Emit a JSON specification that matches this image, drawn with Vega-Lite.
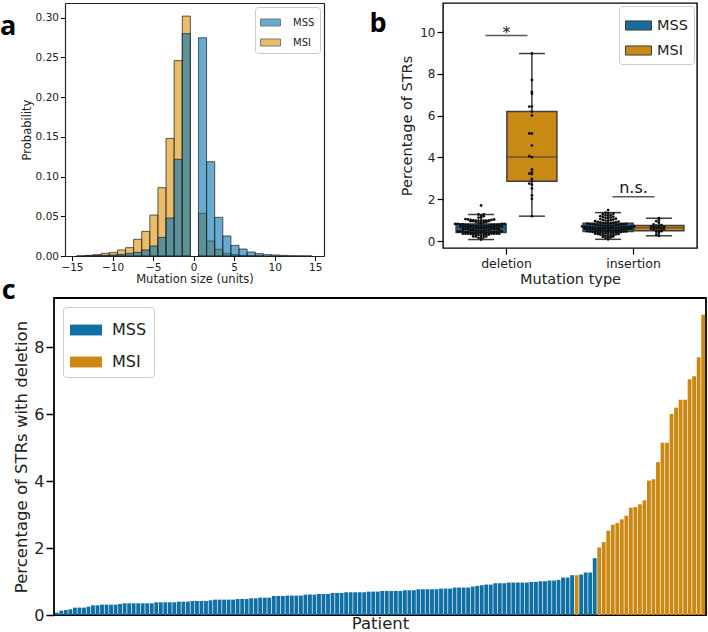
{
"$schema": "https://vega.github.io/schema/vega-lite/v6.json",
"autosize": {"type": "none"},
"padding": {"left": 54, "top": 3, "right": 654, "bottom": 629},
"background": "white",
"datasets": {
"hist": [
{"status":"MSI","start":-14.4,"end":-13.4,"prob":0.0003},
{"status":"MSI","start":-13.4,"end":-12.4,"prob":0.0008},
{"status":"MSI","start":-12.4,"end":-11.4,"prob":0.0017},
{"status":"MSI","start":-11.4,"end":-10.4,"prob":0.0034},
{"status":"MSI","start":-10.4,"end":-9.4,"prob":0.0046},
{"status":"MSI","start":-9.4,"end":-8.4,"prob":0.0076},
{"status":"MSI","start":-8.4,"end":-7.4,"prob":0.0105},
{"status":"MSI","start":-7.4,"end":-6.4,"prob":0.021},
{"status":"MSI","start":-6.4,"end":-5.4,"prob":0.031},
{"status":"MSI","start":-5.4,"end":-4.4,"prob":0.0516},
{"status":"MSI","start":-4.4,"end":-3.4,"prob":0.086},
{"status":"MSI","start":-3.4,"end":-2.4,"prob":0.148},
{"status":"MSI","start":-2.4,"end":-1.4,"prob":0.246},
{"status":"MSI","start":-1.4,"end":-0.4,"prob":0.302},
{"status":"MSI","start":0.6,"end":1.6,"prob":0.0537},
{"status":"MSI","start":1.6,"end":2.6,"prob":0.0189},
{"status":"MSI","start":2.6,"end":3.6,"prob":0.0084},
{"status":"MSI","start":3.6,"end":4.6,"prob":0.0034},
{"status":"MSI","start":4.6,"end":5.6,"prob":0.0017},
{"status":"MSI","start":5.6,"end":6.6,"prob":0.0008},
{"status":"MSI","start":6.6,"end":7.6,"prob":0.0004},
{"status":"MSI","start":7.6,"end":8.6,"prob":0.0002},
{"status":"MSS","start":-13.4,"end":-12.4,"prob":0.0003},
{"status":"MSS","start":-12.4,"end":-11.4,"prob":0.0005},
{"status":"MSS","start":-11.4,"end":-10.4,"prob":0.0008},
{"status":"MSS","start":-10.4,"end":-9.4,"prob":0.0013},
{"status":"MSS","start":-9.4,"end":-8.4,"prob":0.002},
{"status":"MSS","start":-8.4,"end":-7.4,"prob":0.0034},
{"status":"MSS","start":-7.4,"end":-6.4,"prob":0.0046},
{"status":"MSS","start":-6.4,"end":-5.4,"prob":0.0076},
{"status":"MSS","start":-5.4,"end":-4.4,"prob":0.0126},
{"status":"MSS","start":-4.4,"end":-3.4,"prob":0.0235},
{"status":"MSS","start":-3.4,"end":-2.4,"prob":0.0478},
{"status":"MSS","start":-2.4,"end":-1.4,"prob":0.1217},
{"status":"MSS","start":-1.4,"end":-0.4,"prob":0.280},
{"status":"MSS","start":0.6,"end":1.6,"prob":0.2747},
{"status":"MSS","start":1.6,"end":2.6,"prob":0.1187},
{"status":"MSS","start":2.6,"end":3.6,"prob":0.0487},
{"status":"MSS","start":3.6,"end":4.6,"prob":0.0252},
{"status":"MSS","start":4.6,"end":5.6,"prob":0.0134},
{"status":"MSS","start":5.6,"end":6.6,"prob":0.0088},
{"status":"MSS","start":6.6,"end":7.6,"prob":0.005},
{"status":"MSS","start":7.6,"end":8.6,"prob":0.003},
{"status":"MSS","start":8.6,"end":9.6,"prob":0.0017},
{"status":"MSS","start":9.6,"end":10.6,"prob":0.0013},
{"status":"MSS","start":10.6,"end":11.6,"prob":0.0008},
{"status":"MSS","start":11.6,"end":12.6,"prob":0.0003},
{"status":"MSS","start":12.6,"end":13.6,"prob":0.0002},
{"status":"MSS","start":13.6,"end":14.6,"prob":0.0001}
],
"patients": [
{"patient":0,"status":"MSS","deletion":0.07,"insertion":0.08},
{"patient":1,"status":"MSS","deletion":0.13,"insertion":0.12},
{"patient":2,"status":"MSS","deletion":0.15,"insertion":0.15},
{"patient":3,"status":"MSS","deletion":0.17,"insertion":0.18},
{"patient":4,"status":"MSS","deletion":0.22,"insertion":0.20},
{"patient":5,"status":"MSS","deletion":0.22,"insertion":0.22},
{"patient":6,"status":"MSS","deletion":0.22,"insertion":0.24},
{"patient":7,"status":"MSS","deletion":0.25,"insertion":0.25},
{"patient":8,"status":"MSS","deletion":0.29,"insertion":0.27},
{"patient":9,"status":"MSS","deletion":0.29,"insertion":0.28},
{"patient":10,"status":"MSS","deletion":0.31,"insertion":0.30},
{"patient":11,"status":"MSS","deletion":0.31,"insertion":0.31},
{"patient":12,"status":"MSS","deletion":0.31,"insertion":0.32},
{"patient":13,"status":"MSS","deletion":0.31,"insertion":0.33},
{"patient":14,"status":"MSS","deletion":0.33,"insertion":0.34},
{"patient":15,"status":"MSS","deletion":0.35,"insertion":0.35},
{"patient":16,"status":"MSS","deletion":0.35,"insertion":0.36},
{"patient":17,"status":"MSS","deletion":0.35,"insertion":0.37},
{"patient":18,"status":"MSS","deletion":0.35,"insertion":0.38},
{"patient":19,"status":"MSS","deletion":0.35,"insertion":0.39},
{"patient":20,"status":"MSS","deletion":0.35,"insertion":0.40},
{"patient":21,"status":"MSS","deletion":0.35,"insertion":0.40},
{"patient":22,"status":"MSS","deletion":0.38,"insertion":0.41},
{"patient":23,"status":"MSS","deletion":0.38,"insertion":0.41},
{"patient":24,"status":"MSS","deletion":0.38,"insertion":0.42},
{"patient":25,"status":"MSS","deletion":0.38,"insertion":0.42},
{"patient":26,"status":"MSS","deletion":0.38,"insertion":0.43},
{"patient":27,"status":"MSS","deletion":0.40,"insertion":0.44},
{"patient":28,"status":"MSS","deletion":0.40,"insertion":0.45},
{"patient":29,"status":"MSS","deletion":0.40,"insertion":0.45},
{"patient":30,"status":"MSS","deletion":0.42,"insertion":0.46},
{"patient":31,"status":"MSS","deletion":0.42,"insertion":0.47},
{"patient":32,"status":"MSS","deletion":0.42,"insertion":0.48},
{"patient":33,"status":"MSS","deletion":0.42,"insertion":0.48},
{"patient":34,"status":"MSS","deletion":0.44,"insertion":0.49},
{"patient":35,"status":"MSS","deletion":0.46,"insertion":0.50},
{"patient":36,"status":"MSS","deletion":0.46,"insertion":0.50},
{"patient":37,"status":"MSS","deletion":0.46,"insertion":0.51},
{"patient":38,"status":"MSS","deletion":0.46,"insertion":0.52},
{"patient":39,"status":"MSS","deletion":0.46,"insertion":0.52},
{"patient":40,"status":"MSS","deletion":0.48,"insertion":0.53},
{"patient":41,"status":"MSS","deletion":0.48,"insertion":0.54},
{"patient":42,"status":"MSS","deletion":0.48,"insertion":0.54},
{"patient":43,"status":"MSS","deletion":0.50,"insertion":0.55},
{"patient":44,"status":"MSS","deletion":0.50,"insertion":0.56},
{"patient":45,"status":"MSS","deletion":0.52,"insertion":0.56},
{"patient":46,"status":"MSS","deletion":0.52,"insertion":0.57},
{"patient":47,"status":"MSS","deletion":0.52,"insertion":0.58},
{"patient":48,"status":"MSS","deletion":0.57,"insertion":0.58},
{"patient":49,"status":"MSS","deletion":0.57,"insertion":0.59},
{"patient":50,"status":"MSS","deletion":0.57,"insertion":0.59},
{"patient":51,"status":"MSS","deletion":0.58,"insertion":0.60},
{"patient":52,"status":"MSS","deletion":0.58,"insertion":0.60},
{"patient":53,"status":"MSS","deletion":0.58,"insertion":0.61},
{"patient":54,"status":"MSS","deletion":0.58,"insertion":0.61},
{"patient":55,"status":"MSS","deletion":0.61,"insertion":0.62},
{"patient":56,"status":"MSS","deletion":0.61,"insertion":0.62},
{"patient":57,"status":"MSS","deletion":0.61,"insertion":0.63},
{"patient":58,"status":"MSS","deletion":0.63,"insertion":0.63},
{"patient":59,"status":"MSS","deletion":0.63,"insertion":0.64},
{"patient":60,"status":"MSS","deletion":0.63,"insertion":0.64},
{"patient":61,"status":"MSS","deletion":0.66,"insertion":0.65},
{"patient":62,"status":"MSS","deletion":0.66,"insertion":0.65},
{"patient":63,"status":"MSS","deletion":0.66,"insertion":0.66},
{"patient":64,"status":"MSS","deletion":0.68,"insertion":0.67},
{"patient":65,"status":"MSS","deletion":0.68,"insertion":0.67},
{"patient":66,"status":"MSS","deletion":0.68,"insertion":0.68},
{"patient":67,"status":"MSS","deletion":0.68,"insertion":0.68},
{"patient":68,"status":"MSS","deletion":0.68,"insertion":0.69},
{"patient":69,"status":"MSS","deletion":0.70,"insertion":0.70},
{"patient":70,"status":"MSS","deletion":0.70,"insertion":0.70},
{"patient":71,"status":"MSS","deletion":0.70,"insertion":0.71},
{"patient":72,"status":"MSS","deletion":0.72,"insertion":0.72},
{"patient":73,"status":"MSS","deletion":0.72,"insertion":0.72},
{"patient":74,"status":"MSS","deletion":0.72,"insertion":0.73},
{"patient":75,"status":"MSS","deletion":0.72,"insertion":0.74},
{"patient":76,"status":"MSS","deletion":0.72,"insertion":0.74},
{"patient":77,"status":"MSS","deletion":0.74,"insertion":0.75},
{"patient":78,"status":"MSS","deletion":0.74,"insertion":0.76},
{"patient":79,"status":"MSS","deletion":0.74,"insertion":0.76},
{"patient":80,"status":"MSS","deletion":0.77,"insertion":0.77},
{"patient":81,"status":"MSS","deletion":0.77,"insertion":0.78},
{"patient":82,"status":"MSS","deletion":0.77,"insertion":0.79},
{"patient":83,"status":"MSS","deletion":0.77,"insertion":0.80},
{"patient":84,"status":"MSS","deletion":0.77,"insertion":0.80},
{"patient":85,"status":"MSS","deletion":0.79,"insertion":0.81},
{"patient":86,"status":"MSS","deletion":0.79,"insertion":0.82},
{"patient":87,"status":"MSS","deletion":0.79,"insertion":0.83},
{"patient":88,"status":"MSS","deletion":0.82,"insertion":0.84},
{"patient":89,"status":"MSS","deletion":0.82,"insertion":0.85},
{"patient":90,"status":"MSS","deletion":0.82,"insertion":0.86},
{"patient":91,"status":"MSS","deletion":0.82,"insertion":0.87},
{"patient":92,"status":"MSS","deletion":0.85,"insertion":0.88},
{"patient":93,"status":"MSS","deletion":0.87,"insertion":0.89},
{"patient":94,"status":"MSS","deletion":0.89,"insertion":0.90},
{"patient":95,"status":"MSS","deletion":0.91,"insertion":0.92},
{"patient":96,"status":"MSS","deletion":0.91,"insertion":0.93},
{"patient":97,"status":"MSS","deletion":0.95,"insertion":0.95},
{"patient":98,"status":"MSS","deletion":0.95,"insertion":0.96},
{"patient":99,"status":"MSS","deletion":0.95,"insertion":0.98},
{"patient":100,"status":"MSS","deletion":0.97,"insertion":1.00},
{"patient":101,"status":"MSS","deletion":0.97,"insertion":1.01},
{"patient":102,"status":"MSS","deletion":0.97,"insertion":1.03},
{"patient":103,"status":"MSS","deletion":0.97,"insertion":1.05},
{"patient":104,"status":"MSS","deletion":0.97,"insertion":1.07},
{"patient":105,"status":"MSS","deletion":0.99,"insertion":1.09},
{"patient":106,"status":"MSS","deletion":0.99,"insertion":1.11},
{"patient":107,"status":"MSS","deletion":1.01,"insertion":1.13},
{"patient":108,"status":"MSS","deletion":1.01,"insertion":1.15},
{"patient":109,"status":"MSS","deletion":1.03,"insertion":1.17},
{"patient":110,"status":"MSS","deletion":1.03,"insertion":1.19},
{"patient":111,"status":"MSS","deletion":1.05,"insertion":1.21},
{"patient":112,"status":"MSS","deletion":1.12,"insertion":1.23},
{"patient":113,"status":"MSS","deletion":1.12,"insertion":1.25},
{"patient":114,"status":"MSS","deletion":1.19,"insertion":1.28},
{"patient":115,"status":"MSI","deletion":1.19,"insertion":0.25},
{"patient":116,"status":"MSS","deletion":1.21,"insertion":1.31},
{"patient":117,"status":"MSS","deletion":1.27,"insertion":1.33},
{"patient":118,"status":"MSS","deletion":1.27,"insertion":1.36},
{"patient":119,"status":"MSS","deletion":1.70,"insertion":1.48},
{"patient":120,"status":"MSI","deletion":2.02,"insertion":0.30},
{"patient":121,"status":"MSI","deletion":2.18,"insertion":0.38},
{"patient":122,"status":"MSI","deletion":2.52,"insertion":0.44},
{"patient":123,"status":"MSI","deletion":2.70,"insertion":0.47},
{"patient":124,"status":"MSI","deletion":2.75,"insertion":0.48},
{"patient":125,"status":"MSI","deletion":2.86,"insertion":0.49},
{"patient":126,"status":"MSI","deletion":2.97,"insertion":0.52},
{"patient":127,"status":"MSI","deletion":3.21,"insertion":0.55},
{"patient":128,"status":"MSI","deletion":3.23,"insertion":0.57},
{"patient":129,"status":"MSI","deletion":3.31,"insertion":0.59},
{"patient":130,"status":"MSI","deletion":3.43,"insertion":0.61},
{"patient":131,"status":"MSI","deletion":4.02,"insertion":0.63},
{"patient":132,"status":"MSI","deletion":4.06,"insertion":0.64},
{"patient":133,"status":"MSI","deletion":4.57,"insertion":0.66},
{"patient":134,"status":"MSI","deletion":5.15,"insertion":0.68},
{"patient":135,"status":"MSI","deletion":5.15,"insertion":0.70},
{"patient":136,"status":"MSI","deletion":6.01,"insertion":0.72},
{"patient":137,"status":"MSI","deletion":6.20,"insertion":0.74},
{"patient":138,"status":"MSI","deletion":6.44,"insertion":0.76},
{"patient":139,"status":"MSI","deletion":6.44,"insertion":0.80},
{"patient":140,"status":"MSI","deletion":7.05,"insertion":0.88},
{"patient":141,"status":"MSI","deletion":7.14,"insertion":0.95},
{"patient":142,"status":"MSI","deletion":7.71,"insertion":1.02},
{"patient":143,"status":"MSI","deletion":8.98,"insertion":1.09}
],
"annot": [
{"type":"deletion","y":9.84,"label":"*"},
{"type":"insertion","y":2.12,"label":"n.s."}
]
},
"vconcat": [
{
"hconcat": [
{
"width": 270, "height": 253,
"view": {"stroke": null},
"data": {"name": "hist"},
"layer": [
{
"mark": {"type": "rect", "fillOpacity": 0.6, "stroke": "#222", "strokeWidth": 0.9, "strokeOpacity": 0.8},
"encoding": {
"x": {"field": "start", "type": "quantitative", "title": "Mutation size (units)", "scale": {"domain": [-15.86, 16.08], "range": [11, 270], "nice": false, "zero": false}, "axis": {"values": [-15,-10,-5,0,5,10,15], "labelFontSize": 10.5, "titleFontSize": 11.5, "tickSize": 4.5, "tickWidth": 1, "labelPadding": 2, "titlePadding": 0, "domainWidth": 1.2, "domainColor": "#222"}},
"x2": {"field": "end"},
"y": {"field": "prob", "type": "quantitative", "title": "Probability", "scale": {"domain": [0, 0.3185], "nice": false}, "axis": {"values": [0,0.05,0.1,0.15,0.2,0.25,0.3], "format": ".2f", "offset": -11, "labelFontSize": 10.5, "titleFontSize": 11.5, "tickSize": 4.5, "tickWidth": 1, "labelPadding": 2, "titlePadding": 3, "domainWidth": 1.2, "domainColor": "#222"}},
"y2": {"datum": 0},
"color": {"field": "status", "type": "nominal", "scale": {"domain": ["MSS","MSI"], "range": ["#0173B2","#DE8F05"]}, "legend": {"orient": "top-right", "title": null, "offset": 4, "labelFontSize": 10, "symbolType": "M-1,-0.35L1,-0.35L1,0.35L-1,0.35Z", "symbolSize": 400, "symbolStrokeColor": "#222", "symbolStrokeWidth": 1, "symbolOpacity": 0.6, "labelOffset": 12, "rowPadding": 4, "padding": 5}}
}
},
{
"mark": {"type": "point", "opacity": 0},
"encoding": {
"x": {"field": "start", "type": "quantitative", "axis": {"orient": "top", "labels": false, "ticks": false, "title": null, "domainWidth": 1.2, "domainColor": "#222"}},
"y": {"field": "prob", "type": "quantitative", "axis": {"orient": "right", "labels": false, "ticks": false, "title": null, "domainWidth": 1.2, "domainColor": "#222"}}
}
},
{
"data": {"values": [{"label": "a"}]},
"mark": {"type": "text", "align": "left", "baseline": "alphabetic", "dx": -65, "dy": 32, "font": "Open Sans", "fontSize": 27, "fontWeight": "bold", "color": "#000"},
"encoding": {
"x": {"datum": -15.86, "type": "quantitative", "axis": null},
"y": {"datum": 0.3185, "type": "quantitative", "axis": null},
"text": {"field": "label"}
}
}
],
"resolve": {"axis": {"x": "independent", "y": "independent"}}
},
{
"width": 254, "height": 245,
"data": {"name": "patients"},
"layer": [
{
"transform": [{"fold": ["deletion","insertion"], "as": ["type","value"]}],
"mark": {"type": "boxplot", "extent": 1.5, "size": 50, "outliers": false, "box": {"stroke": "#3d3d3d", "strokeWidth": 1.5}, "median": {"color": "#3d3d3d", "thickness": 1.5}, "rule": {"color": "#3d3d3d", "strokeWidth": 1.5}, "ticks": {"color": "#3d3d3d", "size": 26, "thickness": 1.5}},
"encoding": {
"x": {"field": "type", "type": "nominal", "title": "Mutation type", "scale": {"domain": ["deletion","insertion"], "paddingInner": 0, "paddingOuter": 0}, "axis": {"labelAngle": 0, "labelFontSize": 12.5, "titleFontSize": 14.5, "tickSize": 6, "tickWidth": 1.2, "labelPadding": 3, "titlePadding": 3, "domain": false}},
"xOffset": {"field": "status", "type": "nominal", "scale": {"domain": ["MSS","MSI"], "paddingInner": 0, "paddingOuter": 0.25}},
"y": {"field": "value", "type": "quantitative", "title": "Percentage of STRs", "scale": {"domain": [-0.335, 11.4], "nice": false, "zero": false}, "axis": {"values": [0,2,4,6,8,10], "labelFontSize": 12, "titleFontSize": 14.5, "tickSize": 6, "tickWidth": 1.2, "labelPadding": 2, "titlePadding": 5, "domain": false}},
"color": {"field": "status", "type": "nominal", "scale": {"domain": ["MSS","MSI"], "range": ["#176c9c","#c98a15"]}, "legend": {"orient": "top-right", "title": null, "offset": 3, "labelFontSize": 14.5, "symbolType": "M-1,-0.35L1,-0.35L1,0.35L-1,0.35Z", "symbolSize": 676, "symbolStrokeColor": "#3d3d3d", "symbolStrokeWidth": 1, "symbolOpacity": 1, "labelOffset": 5, "rowPadding": 4, "padding": 6}}
}
},
{
"transform": [
{"fold": ["deletion","insertion"], "as": ["type","value"]},
{"filter": "datum.status === 'MSS'"},
{"bin": {"step": 0.12, "extent": [0, 12]}, "field": "value", "as": "vb"},
{"window": [{"op": "row_number", "as": "r"}], "groupby": ["type","vb"], "sort": [{"field": "value", "order": "ascending"}]},
{"filter": "datum.r % 2 === 1"}
],
"mark": {"type": "circle", "size": 8, "color": "#111", "opacity": 1},
"encoding": {
"x": {"field": "type", "type": "nominal", "title": "Mutation type", "scale": {"domain": ["deletion","insertion"], "paddingInner": 0, "paddingOuter": 0}},
"xOffset": {"field": "r", "type": "quantitative", "scale": {"domain": [1, 41], "range": [38.1, 90.1], "nice": false, "zero": false}},
"y": {"field": "value", "type": "quantitative", "title": "Percentage of STRs", "scale": {"domain": [-0.335, 11.4], "nice": false, "zero": false}}
}
},
{
"transform": [
{"fold": ["deletion","insertion"], "as": ["type","value"]},
{"filter": "datum.status === 'MSS'"},
{"bin": {"step": 0.12, "extent": [0, 12]}, "field": "value", "as": "vb"},
{"window": [{"op": "row_number", "as": "r"}], "groupby": ["type","vb"], "sort": [{"field": "value", "order": "ascending"}]},
{"filter": "datum.r % 2 === 0"}
],
"mark": {"type": "circle", "size": 8, "color": "#111", "opacity": 1},
"encoding": {
"x": {"field": "type", "type": "nominal", "title": "Mutation type", "scale": {"domain": ["deletion","insertion"], "paddingInner": 0, "paddingOuter": 0}},
"xOffset": {"field": "r", "type": "quantitative", "scale": {"domain": [0, 40], "range": [38.1, -13.9], "nice": false, "zero": false}},
"y": {"field": "value", "type": "quantitative", "title": "Percentage of STRs", "scale": {"domain": [-0.335, 11.4], "nice": false, "zero": false}}
}
},
{
"transform": [
{"fold": ["deletion","insertion"], "as": ["type","value"]},
{"filter": "datum.status === 'MSI'"},
{"bin": {"step": 0.12, "extent": [0, 12]}, "field": "value", "as": "vb"},
{"window": [{"op": "row_number", "as": "r"}], "groupby": ["type","vb"], "sort": [{"field": "value", "order": "ascending"}]},
{"filter": "datum.r % 2 === 1"}
],
"mark": {"type": "circle", "size": 8, "color": "#111", "opacity": 1},
"encoding": {
"x": {"field": "type", "type": "nominal", "title": "Mutation type", "scale": {"domain": ["deletion","insertion"], "paddingInner": 0, "paddingOuter": 0}},
"xOffset": {"field": "r", "type": "quantitative", "scale": {"domain": [1, 41], "range": [88.9, 140.9], "nice": false, "zero": false}},
"y": {"field": "value", "type": "quantitative", "title": "Percentage of STRs", "scale": {"domain": [-0.335, 11.4], "nice": false, "zero": false}}
}
},
{
"transform": [
{"fold": ["deletion","insertion"], "as": ["type","value"]},
{"filter": "datum.status === 'MSI'"},
{"bin": {"step": 0.12, "extent": [0, 12]}, "field": "value", "as": "vb"},
{"window": [{"op": "row_number", "as": "r"}], "groupby": ["type","vb"], "sort": [{"field": "value", "order": "ascending"}]},
{"filter": "datum.r % 2 === 0"}
],
"mark": {"type": "circle", "size": 8, "color": "#111", "opacity": 1},
"encoding": {
"x": {"field": "type", "type": "nominal", "title": "Mutation type", "scale": {"domain": ["deletion","insertion"], "paddingInner": 0, "paddingOuter": 0}},
"xOffset": {"field": "r", "type": "quantitative", "scale": {"domain": [0, 40], "range": [88.9, 36.9], "nice": false, "zero": false}},
"y": {"field": "value", "type": "quantitative", "title": "Percentage of STRs", "scale": {"domain": [-0.335, 11.4], "nice": false, "zero": false}}
}
},
{
"data": {"name": "annot"},
"mark": {"type": "tick", "orient": "horizontal", "size": 42, "thickness": 1.6, "color": "#111"},
"encoding": {
"x": {"field": "type", "type": "nominal", "title": "Mutation type", "scale": {"domain": ["deletion","insertion"], "paddingInner": 0, "paddingOuter": 0}},
"y": {"field": "y", "type": "quantitative", "title": "Percentage of STRs", "scale": {"domain": [-0.335, 11.4], "nice": false, "zero": false}}
}
},
{
"data": {"name": "annot"},
"transform": [{"filter": "datum.label === '*'"}],
"mark": {"type": "text", "fontSize": 16, "dy": 2.5, "baseline": "alphabetic", "color": "#111"},
"encoding": {
"x": {"field": "type", "type": "nominal", "title": "Mutation type", "scale": {"domain": ["deletion","insertion"], "paddingInner": 0, "paddingOuter": 0}},
"y": {"field": "y", "type": "quantitative", "title": "Percentage of STRs", "scale": {"domain": [-0.335, 11.4], "nice": false, "zero": false}},
"text": {"field": "label"}
}
},
{
"data": {"name": "annot"},
"transform": [{"filter": "datum.label === 'n.s.'"}],
"mark": {"type": "text", "fontSize": 16, "dy": -4, "baseline": "alphabetic", "color": "#111"},
"encoding": {
"x": {"field": "type", "type": "nominal", "title": "Mutation type", "scale": {"domain": ["deletion","insertion"], "paddingInner": 0, "paddingOuter": 0}},
"y": {"field": "y", "type": "quantitative", "title": "Percentage of STRs", "scale": {"domain": [-0.335, 11.4], "nice": false, "zero": false}},
"text": {"field": "label"}
}
},
{
"data": {"values": [{"label": "b"}]},
"mark": {"type": "text", "align": "left", "baseline": "alphabetic", "dx": -137, "dy": 29, "font": "Open Sans", "fontSize": 27, "fontWeight": "bold", "color": "#000"},
"encoding": {
"x": {"datum": "deletion", "type": "nominal", "title": "Mutation type", "scale": {"domain": ["deletion","insertion"], "paddingInner": 0, "paddingOuter": 0}},
"y": {"datum": 11.4, "type": "quantitative", "title": "Percentage of STRs", "scale": {"domain": [-0.335, 11.4], "nice": false, "zero": false}},
"text": {"field": "label"}
}
}
],
"resolve": {"scale": {"xOffset": "independent"}}
}
],
"spacing": 119,
"bounds": "flush",
"resolve": {"scale": {"color": "independent"}, "legend": {"color": "independent"}}
},
{
"width": 652, "height": 317,
"view": {"stroke": "#000", "strokeWidth": 1.8},
"data": {"name": "patients"},
"layer": [
{
"mark": {"type": "bar"},
"encoding": {
"x": {"field": "patient", "type": "ordinal", "title": "Patient", "scale": {"paddingInner": 0.15, "paddingOuter": 0.2}, "axis": {"labels": false, "ticks": false, "domain": false, "titleFontSize": 16.5, "titlePadding": 0}},
"y": {"field": "deletion", "type": "quantitative", "title": "Percentage of STRs with deletion", "scale": {"domain": [0, 9.48], "nice": false}, "axis": {"values": [0,2,4,6,8], "labelFontSize": 16, "titleFontSize": 16.5, "tickSize": 8, "tickWidth": 1.5, "labelPadding": 2, "titlePadding": 4, "domain": false}},
"color": {"field": "status", "type": "nominal", "scale": {"domain": ["MSS","MSI"], "range": ["#106fa5","#cc8812"]}, "legend": {"orient": "top-left", "title": null, "offset": 9, "labelFontSize": 16, "symbolType": "M-1,-0.34L1,-0.34L1,0.34L-1,0.34Z", "symbolSize": 1024, "symbolStrokeWidth": 0, "symbolOpacity": 1, "labelOffset": 10, "rowPadding": 8, "padding": 7}}
}
},
{
"data": {"values": [{"label": "c"}]},
"mark": {"type": "text", "align": "left", "baseline": "alphabetic", "dx": -55, "dy": 1, "font": "Open Sans", "fontSize": 27, "fontWeight": "bold", "color": "#000"},
"encoding": {
"x": {"datum": 0, "type": "ordinal"},
"y": {"datum": 9.48, "type": "quantitative"},
"text": {"field": "label"}
}
}
]
}
],
"spacing": -11,
"resolve": {"scale": {"color": "independent"}, "legend": {"color": "independent"}},
"config": {
"font": "DejaVu Sans",
"view": {"stroke": "#000", "strokeWidth": 1.4},
"axis": {"labelColor": "#222", "titleColor": "#222", "tickColor": "#000", "domainColor": "#000", "titleFontWeight": "normal", "grid": false, "labelFont": "DejaVu Sans", "titleFont": "DejaVu Sans"},
"legend": {"labelFont": "DejaVu Sans", "labelColor": "#222", "strokeColor": "#cccccc", "cornerRadius": 3, "fillColor": "#ffffff"},
"title": {"color": "#000"}
}
}
